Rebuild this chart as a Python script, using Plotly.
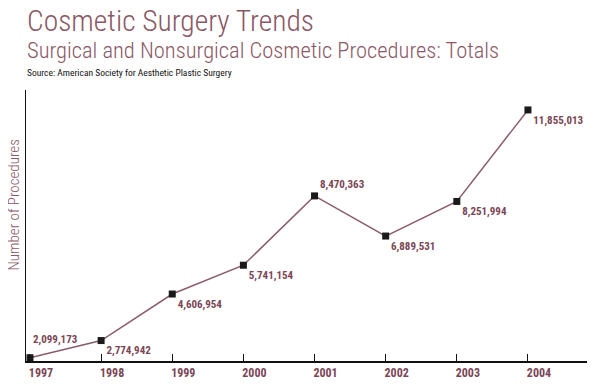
import plotly.graph_objects as go

years = [1997, 1998, 1999, 2000, 2001, 2002, 2003, 2004]
procedures = [2099173, 2774942, 4606954, 5741154, 8470363, 6889531, 8251994, 11855013]
label_pos = ["top right", "bottom right", "bottom right", "bottom right",
             "top right", "bottom right", "bottom right", "bottom right"]

MAUVE = "#8a5866"
LABEL = "#7a4656"
FONT = "Roboto Condensed"

# page body has an 8px margin; figure sized to fit the 597x390 window
OFF = 8

labels = [f"{v:,}" for v in procedures]
fig = go.Figure()
fig.add_trace(go.Scatter(
    x=years, y=procedures,
    mode="lines+markers+text",
    line=dict(color="#8b5d6a", width=1.5),
    marker=dict(symbol="square", size=7, color="#1a1a1a"),
    text=[""] + labels[1:],
    textposition=label_pos,
    textfont=dict(family=FONT, size=11, color=LABEL, weight="bold"),
    cliponaxis=False,
    hoverinfo="skip",
))

fig.update_layout(
    width=597 - 2 * OFF, height=390 - 2 * OFF,
    margin=dict(l=26 - OFF, r=10 - OFF, t=90 - OFF, b=29 - OFF, autoexpand=False),
    paper_bgcolor="white", plot_bgcolor="white",
    showlegend=False,
    font=dict(family=FONT),
    xaxis=dict(
        range=[1996.944, 2004.83],
        tickvals=years, ticktext=[str(y) for y in years],
        showgrid=False, zeroline=False,
        showline=True, linecolor="#111111", linewidth=1.5,
        ticks="inside", ticklen=7, tickcolor="#111111", tickwidth=1,
        tickfont=dict(family=FONT, size=12, color=LABEL, weight="bold"),
        ticklabelshift=11,
    ),
    yaxis=dict(
        range=[1970000, 12640000],
        showgrid=False, zeroline=False,
        showline=True, linecolor="#111111", linewidth=1,
        showticklabels=False, ticks="",
    ),
    annotations=[
        dict(text=labels[0], x=years[0], y=procedures[0], xref="x", yref="y",
             xanchor="left", yanchor="middle", xshift=1, yshift=18, showarrow=False,
             font=dict(family=FONT, size=11, color=LABEL, weight="bold")),
        dict(text="Cosmetic Surgery Trends", xref="paper", yref="paper",
             x=-0.002, y=1.326, xanchor="left", yanchor="top", showarrow=False,
             font=dict(family=FONT, size=29.5, color=MAUVE, weight=300)),
        dict(text="Surgical and Nonsurgical Cosmetic Procedures: Totals", xref="paper", yref="paper",
             x=-0.002, y=1.203, xanchor="left", yanchor="top", showarrow=False,
             font=dict(family=FONT, size=22.5, color=MAUVE, weight=300)),
        dict(text="Source: American Society for Aesthetic Plastic Surgery", xref="paper", yref="paper",
             x=-0.002, y=1.091, xanchor="left", yanchor="top", showarrow=False,
             font=dict(family=FONT, size=9.5, color="#111111")),
        dict(text="Number of Procedures", xref="paper", yref="paper",
             x=-0.021, y=0.575, xanchor="center", yanchor="middle", textangle=-90,
             showarrow=False, font=dict(family=FONT, size=15, color=MAUVE, weight=300)),
    ],
)

fig.write_html("out.html")
